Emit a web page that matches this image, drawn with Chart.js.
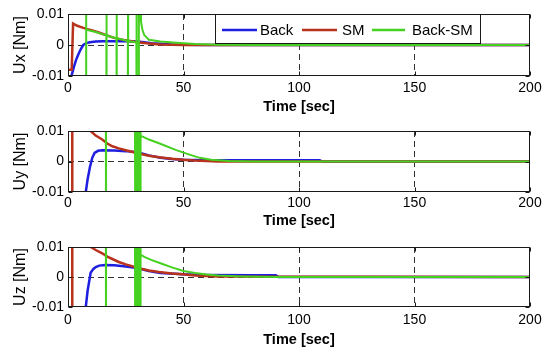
<!DOCTYPE html>
<html><head><meta charset="utf-8">
<script src="https://cdn.jsdelivr.net/npm/chart.js@4.4.1/dist/chart.umd.min.js"></script>
<style>
html,body{margin:0;padding:0;background:#fff;}
#wrap{position:relative;width:550px;height:353px;overflow:hidden;background:#fff;}
canvas{position:absolute;left:0;}
</style></head><body>
<div id="wrap">
<canvas id="c1" width="550" height="116" style="top:0px"></canvas>
<canvas id="c2" width="550" height="112" style="top:118px"></canvas>
<canvas id="c3" width="550" height="116" style="top:233px"></canvas>
</div>
<script>
const seriesNames = ['Back', 'SM', 'Back-SM'];
const xTicks = [0, 50, 100, 150, 200];
const yTicks = [-0.01, 0, 0.01];
const yLabels = ['-0.01', '0', '0.01'];
const yTitles = ['Ux [Nm]', 'Uy [Nm]', 'Uz [Nm]'];
const xTitle = 'Time [sec]';

// ---- Ux ----
const uxBackT = [0, 1.5, 2.5, 3.5, 4.5, 5.5, 6.6, 8, 9.5, 12, 15, 20, 25, 30, 33, 36, 40, 45, 50, 60, 200];
const uxBackV = [-0.02, -0.01, -0.0072, -0.0048, -0.003, -0.0014, 0, 0.0006, 0.0009, 0.0011, 0.0012, 0.0012, 0.0012, 0.0011, 0.0009, 0.0006, 0.0004, 0.0002, 0.0001, 0, 0];
const uxSmT = [0, 1.6, 2.2, 4, 6, 8, 10.5, 13, 16, 18, 20, 25, 30, 35, 40, 50, 60, 200];
const uxSmV = [-0.008, -0.008, 0.0069, 0.0062, 0.0057, 0.0052, 0.0047, 0.0041, 0.0033, 0.0028, 0.0023, 0.0015, 0.0009, 0.0005, 0.0002, 0, 0, 0];
const uxBsmT = [0, 7.8, 7.85, 7.9, 12, 16.6, 16.65, 16.7, 16.75, 21, 21.05, 21.1, 21.15, 25.9, 25.95, 26, 26.05, 29.6, 29.65, 29.7, 29.75, 30.6, 30.65, 30.7, 31.2, 31.6, 32.2, 33, 35, 40, 47, 55, 65, 80, 200];
const uxBsmV = [-0.03, -0.03, 0.03, 0.0049, 0.0042, 0.0031, -0.03, 0.03, 0.0031, 0.0022, -0.03, 0.03, 0.0022, 0.0013, -0.03, 0.03, 0.0013, 0.0008, -0.03, 0.03, 0.0008, 0.0008, -0.03, 0.03, 0.01, 0.0075, 0.005, 0.0032, 0.0017, 0.0011, 0.0007, 0.0003, 0.0001, 0, 0];

// ---- Uy ----
const uyBackT = [0, 7.7, 8.5, 9.5, 10.5, 11.5, 13, 15, 20, 25, 29, 32, 35, 40, 45, 50, 60, 80, 109, 110, 200];
const uyBackV = [-0.03, -0.01, -0.0058, -0.0018, 0.0012, 0.0028, 0.0035, 0.0037, 0.0036, 0.0034, 0.0031, 0.0026, 0.002, 0.0012, 0.0008, 0.0006, 0.0004, 0.0004, 0.0004, 0, 0];
const uySmT = [0, 1.8, 1.85, 5, 9.8, 12, 14.8, 17, 19.2, 22, 25, 30.7, 35, 39.4, 45, 49.4, 55, 65, 200];
const uySmV = [-0.03, -0.03, 0.03, 0.02, 0.01, 0.0085, 0.0072, 0.0059, 0.005, 0.0043, 0.0037, 0.0026, 0.0019, 0.0014, 0.0009, 0.0006, 0.0003, 0, 0];
const uyBsmT = [0, 16.4, 16.45, 16.5, 16.55, 29.0, 29.1, 29.25, 29.4, 29.55, 29.7, 29.85, 30.0, 30.15, 30.3, 30.45, 30.6, 30.75, 30.9, 31.05, 31.2, 31.35, 31.5, 33, 35, 39.4, 46.6, 51.6, 57, 62, 70, 80, 200];
const uyBsmV = [0.03, 0.02, -0.03, 0.03, 0.02, 0.015, -0.03, 0.03, -0.03, 0.03, -0.03, 0.03, -0.03, 0.03, -0.03, 0.03, -0.03, 0.03, -0.03, 0.03, -0.03, 0.03, 0.0085, 0.0079, 0.0072, 0.006, 0.0038, 0.0025, 0.0012, 0.0006, 0.0002, 0, 0];

// ---- Uz ----
const uzBackT = [0, 7.7, 8.5, 9.8, 11, 12, 13.5, 16, 20, 25, 30, 35, 40, 50, 60, 80, 90, 91, 200];
const uzBackV = [-0.03, -0.01, -0.0045, 0.0014, 0.0027, 0.0033, 0.0038, 0.004, 0.0039, 0.0035, 0.003, 0.002, 0.0013, 0.0009, 0.0007, 0.0006, 0.0006, 0, 0];
const uzSmT = [0, 1.8, 1.85, 5, 9.8, 12, 14.8, 17, 19.2, 22, 25, 30.7, 35, 39.4, 45, 49.4, 55, 65, 200];
const uzSmV = [-0.03, -0.03, 0.03, 0.02, 0.01, 0.009, 0.0079, 0.0068, 0.006, 0.005, 0.0042, 0.0029, 0.0022, 0.0017, 0.0012, 0.0009, 0.0005, 0.0002, 0];
const uzBsmT = [0, 16.4, 16.45, 16.5, 16.55, 29.0, 29.1, 29.25, 29.4, 29.55, 29.7, 29.85, 30.0, 30.15, 30.3, 30.45, 30.6, 30.75, 30.9, 31.05, 31.2, 31.35, 31.5, 33, 36, 40, 45, 50, 55, 60, 65, 75, 90, 200];
const uzBsmV = [0.03, 0.02, -0.03, 0.03, 0.02, 0.015, -0.03, 0.03, -0.03, 0.03, -0.03, 0.03, -0.03, 0.03, -0.03, 0.03, -0.03, 0.03, -0.03, 0.03, -0.03, 0.03, 0.0075, 0.0067, 0.0057, 0.0046, 0.0032, 0.002, 0.0013, 0.0008, 0.0005, 0.0002, 0, 0];

const seriesColors = ['#1e1ee0', '#b8321c', '#44d11f'];
const seriesWidths = [2.5, 2.5, 2];
const FONT = "'Liberation Sans', Arial, sans-serif";

const framePlugin = {
  id: 'frame',
  afterDatasetsDraw(chart) {
    const ctx = chart.ctx, a = chart.chartArea, xs = chart.scales.x, ys = chart.scales.y;
    const L = Math.round(a.left) + 0.5, T = Math.round(a.top) + 0.5;
    const R = Math.round(a.right) - 0.5, B = Math.round(a.bottom) - 0.5;
    ctx.save();
    ctx.strokeStyle = '#1a1a1a';
    ctx.lineWidth = 1;
    ctx.strokeRect(L, T, R - L, B - T);
    ctx.beginPath();
    xTicks.forEach(v => {
      const p = Math.round(xs.getPixelForValue(v)) + 0.5;
      ctx.moveTo(p, B); ctx.lineTo(p, B - 4);
      ctx.moveTo(p, T); ctx.lineTo(p, T + 4);
    });
    yTicks.forEach(v => {
      const p = Math.round(ys.getPixelForValue(v)) + 0.5;
      ctx.moveTo(L, p); ctx.lineTo(L + 4, p);
      ctx.moveTo(R, p); ctx.lineTo(R - 4, p);
    });
    ctx.stroke();
    ctx.restore();
  }
};

const legendPlugin = {
  id: 'boxLegend',
  afterDraw(chart) {
    const ctx = chart.ctx, a = chart.chartArea;
    const x0 = Math.round(a.left) + 147, y0 = Math.round(a.top), w = 265, h = 29;
    ctx.save();
    ctx.fillStyle = '#fff';
    ctx.fillRect(x0, y0, w, h);
    ctx.strokeStyle = '#1a1a1a';
    ctx.lineWidth = 1;
    ctx.strokeRect(x0 + 0.5, y0 + 0.5, w, h);
    const lineX = [7, 87, 157];
    const lineW = [35, 35, 33];
    const textX = [45, 127, 197];
    const ly = y0 + 16;
    ctx.font = '15px ' + FONT;
    ctx.textBaseline = 'middle';
    ctx.textAlign = 'left';
    seriesNames.forEach((name, i) => {
      ctx.strokeStyle = seriesColors[i];
      ctx.lineWidth = 2.5;
      ctx.beginPath();
      ctx.moveTo(x0 + lineX[i], ly);
      ctx.lineTo(x0 + lineX[i] + lineW[i], ly);
      ctx.stroke();
      ctx.fillStyle = '#000';
      ctx.fillText(name, x0 + textX[i], ly + 1);
    });
    ctx.restore();
  }
};

function makeChart(id, series, yTitle, padTop, xH, xPad, withLegend) {
  const datasets = series.map((s, i) => ({
    label: seriesNames[i],
    data: s[0].map((t, k) => ({ x: t, y: s[1][k] })),
    borderColor: seriesColors[i],
    borderWidth: seriesWidths[i],
    pointRadius: 0,
    fill: false,
    tension: 0,
    clip: 0,
    order: 3 - i
  }));
  const plugins = [framePlugin];
  if (withLegend) plugins.push(legendPlugin);
  return new Chart(document.getElementById(id), {
    type: 'line',
    data: { datasets },
    plugins,
    options: {
      responsive: false,
      animation: false,
      devicePixelRatio: 1,
      layout: { padding: { top: padTop, right: 20, left: 0, bottom: 0 } },
      plugins: { legend: { display: false }, tooltip: { enabled: false } },
      scales: {
        x: {
          type: 'linear', min: 0, max: 200,
          afterBuildTicks: s => { s.ticks = xTicks.map(v => ({ value: v })); },
          afterFit: s => { s.height = xH; },
          ticks: { padding: xPad, color: '#000', font: { size: 14, family: FONT }, maxRotation: 0, callback: v => String(v) },
          grid: {
            drawTicks: false, lineWidth: 1,
            color: c => (c.tick && c.tick.value > 0 && c.tick.value < 200) ? '#333' : 'rgba(0,0,0,0)'
          },
          border: { display: false, dash: [6, 4] },
          title: { display: true, text: xTitle, color: '#000', font: { size: 14.5, weight: 'bold', family: FONT }, padding: { top: 0, bottom: 0 } }
        },
        y: {
          type: 'linear', min: -0.01, max: 0.01,
          afterBuildTicks: s => { s.ticks = yTicks.map(v => ({ value: v })); },
          afterFit: s => { s.width = 68; },
          ticks: { padding: 4, color: '#000', font: { size: 14, family: FONT }, callback: (v, i) => yLabels[i] },
          grid: {
            drawTicks: false, lineWidth: 1,
            color: c => (c.tick && c.tick.value === 0) ? '#333' : 'rgba(0,0,0,0)'
          },
          border: { display: false, dash: [6, 4] },
          title: { display: true, text: yTitle, color: '#000', font: { size: 16, family: FONT }, padding: { top: 11, bottom: 0 } }
        }
      }
    }
  });
}

makeChart('c1', [[uxBackT, uxBackV], [uxSmT, uxSmV], [uxBsmT, uxBsmV]], yTitles[0], 14, 40, 4, true);
makeChart('c2', [[uyBackT, uyBackV], [uySmT, uySmV], [uyBsmT, uyBsmV]], yTitles[1], 13, 38, 3, false);
makeChart('c3', [[uzBackT, uzBackV], [uzSmT, uzSmV], [uzBsmT, uzBsmV]], yTitles[2], 14, 42, 5, false);
</script>
</body></html>
